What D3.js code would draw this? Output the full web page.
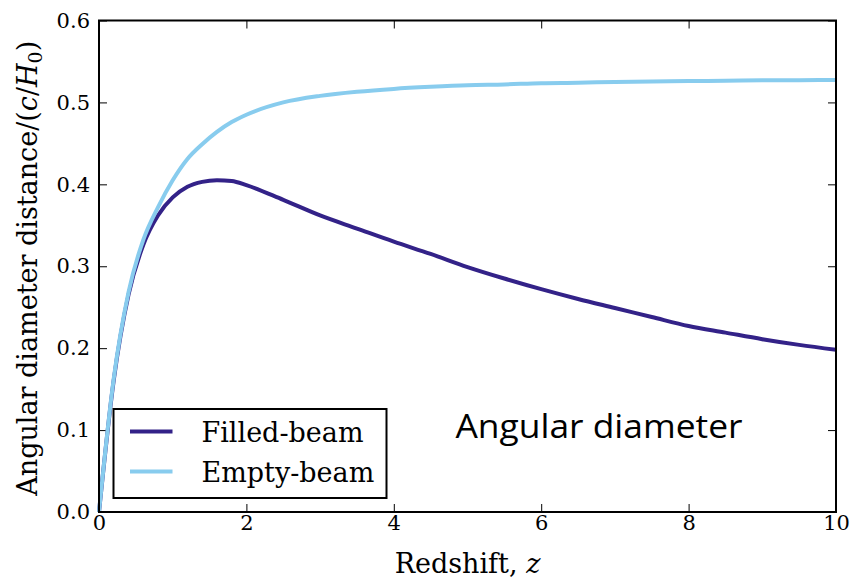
<!DOCTYPE html>
<html lang="en">
<head>
    <meta charset="UTF-8">
    <script src="https://d3js.org/d3.v7.min.js"></script>
    <style>
        body {
            margin: 0;
            background-color: white;
        }
        .tick text {
            font-family: "DejaVu Serif", serif;
            font-size: 21px;
            fill: black;
        }
        .tick line {
            stroke: black;
            stroke-width: 1px;
        }
        .axis-label {
            font-family: "DejaVu Serif", serif;
            font-size: 27px;
        }
        .legend-label {
            font-family: "DejaVu Serif", serif;
            font-size: 27px;
        }
        .annot {
            font-family: "Open Sans", sans-serif;
            font-size: 33px;
        }
    </style>
</head>
<body>
<div id="chart"></div>

<script>
    // redshift samples and the two distance curves
    const redshift = [0, 0.2, 0.4, 0.6, 0.8, 1.0, 1.2, 1.4, 1.6, 1.8, 2.0, 2.5, 3.0, 3.5, 4.0,
        4.5, 5.0, 5.5, 6.0, 6.5, 7.0, 7.5, 8.0, 8.5, 9.0, 9.5, 10.0];
    const filledBeam = [0, 0.161, 0.265, 0.326, 0.362, 0.384, 0.397, 0.403, 0.405, 0.404, 0.399,
        0.381, 0.362, 0.346, 0.330, 0.315, 0.299, 0.285, 0.272, 0.260, 0.249, 0.238, 0.227,
        0.219, 0.211, 0.204, 0.198];
    const emptyBeam = [0, 0.163, 0.268, 0.332, 0.372, 0.405, 0.431, 0.449, 0.464, 0.476, 0.485,
        0.500, 0.508, 0.513, 0.5165, 0.519, 0.521, 0.522, 0.5235, 0.524, 0.525, 0.5255, 0.526,
        0.5265, 0.527, 0.5272, 0.5275];
    const seriesNames = ["Filled-beam", "Empty-beam"];
    const seriesColors = ["#332288", "#88CCEE"];
    const xTicks = [0, 2, 4, 6, 8, 10];
    const yTicks = [0, 0.1, 0.2, 0.3, 0.4, 0.5, 0.6];

    const margin = {top: 20.5, right: 19, bottom: 71, left: 99};
    const width = 855 - margin.left - margin.right;
    const height = 583 - margin.top - margin.bottom;

    const svg = d3.select("#chart").append("svg")
        .attr("width", 855)
        .attr("height", 583)
        .append("g")
        .attr("transform", `translate(${margin.left},${margin.top})`);

    const x = d3.scaleLinear().domain([0, 10]).range([0, width]);
    const y = d3.scaleLinear().domain([0, 0.6]).range([height, 0]);

    const tickLen = 8;

    // ticks point inwards on all four sides
    svg.append("g")
        .attr("transform", `translate(0,${height})`)
        .call(d3.axisBottom(x).tickValues(xTicks).tickSizeInner(-tickLen).tickSizeOuter(0)
            .tickPadding(3).tickFormat(d3.format("d")));
    svg.append("g")
        .call(d3.axisTop(x).tickValues(xTicks).tickSizeInner(-tickLen).tickSizeOuter(0)
            .tickFormat(""));
    svg.append("g")
        .call(d3.axisLeft(y).tickValues(yTicks).tickSizeInner(-tickLen).tickSizeOuter(0)
            .tickPadding(9).tickFormat(d3.format(".1f")));
    svg.append("g")
        .attr("transform", `translate(${width},0)`)
        .call(d3.axisRight(y).tickValues(yTicks).tickSizeInner(-tickLen).tickSizeOuter(0)
            .tickFormat(""));
    svg.selectAll(".domain").remove();

    const series = [
        {name: seriesNames[0], color: seriesColors[0], values: filledBeam},
        {name: seriesNames[1], color: seriesColors[1], values: emptyBeam}
    ];

    const line = d3.line()
        .x((d, i) => x(redshift[i]))
        .y(d => y(d))
        .curve(d3.curveMonotoneX);

    svg.selectAll(".curve")
        .data(series)
        .enter()
        .append("path")
        .attr("class", "curve")
        .attr("d", d => line(d.values))
        .attr("fill", "none")
        .attr("stroke", d => d.color)
        .attr("stroke-width", 4)
        .attr("stroke-linejoin", "round");

    // frame
    svg.append("rect")
        .attr("width", width)
        .attr("height", height)
        .attr("fill", "none")
        .attr("stroke", "black")
        .attr("stroke-width", 2);

    // legend
    const legend = svg.append("g")
        .attr("transform", `translate(14.5,${height - 103})`);
    legend.append("rect")
        .attr("width", 273)
        .attr("height", 89)
        .attr("fill", "white")
        .attr("stroke", "black")
        .attr("stroke-width", 2);
    series.forEach((s, i) => {
        legend.append("line")
            .attr("x1", 16.5).attr("x2", 59)
            .attr("y1", 22.5 + i * 40).attr("y2", 22.5 + i * 40)
            .attr("stroke", s.color)
            .attr("stroke-width", 4);
        legend.append("text")
            .attr("class", "legend-label")
            .attr("x", 88)
            .attr("y", 32.5 + i * 40)
            .text(s.name);
    });

    svg.append("text")
        .attr("class", "annot")
        .attr("x", 356.5)
        .attr("y", 417)
        .attr("textLength", 287)
        .attr("lengthAdjust", "spacingAndGlyphs")
        .text("Angular diameter");

    // axis labels
    const xl = svg.append("text")
        .attr("class", "axis-label")
        .attr("text-anchor", "middle")
        .attr("x", width / 2)
        .attr("y", height + 61);
    xl.append("tspan").text("Redshift, ");
    xl.append("tspan").attr("font-style", "italic").text("z");

    const yl = svg.append("text")
        .attr("class", "axis-label")
        .attr("text-anchor", "middle")
        .attr("transform", "rotate(-90)")
        .attr("x", -height / 2 - 2)
        .attr("y", -62);
    yl.append("tspan").text("Angular diameter distance/(");
    yl.append("tspan").attr("font-style", "italic").text("c");
    yl.append("tspan").text("/");
    yl.append("tspan").attr("font-style", "italic").text("H");
    yl.append("tspan").attr("font-size", "19px").attr("dy", 5).text("0");
    yl.append("tspan").attr("dy", -5).text(")");
</script>
</body>
</html>
